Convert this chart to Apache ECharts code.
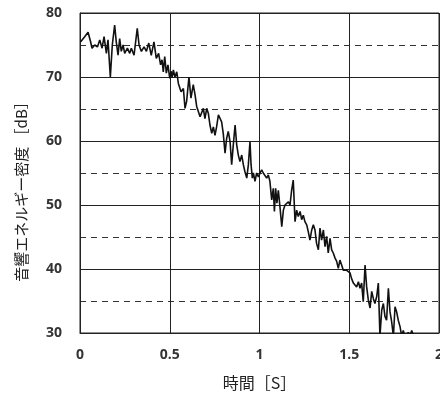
<!DOCTYPE html>
<html>
<head>
<meta charset="utf-8">
<script src="https://cdn.jsdelivr.net/npm/echarts@6/dist/echarts.min.js"></script>
<style>
html,body{margin:0;padding:0;background:#fff;}
#chart{width:440px;height:394px;}
</style>
</head>
<body>
<div id="chart"></div>
<script>
var xTitle = '時間［S］';
var yTitle = '音響エネルギー密度 ［dB］';
var xTicks = [0, 0.5, 1, 1.5, 2];
var yTicks = [30, 40, 50, 60, 70, 80];
var times = [0.004,0.026,0.045,0.059,0.067,0.082,0.097,0.110,0.123,0.134,0.147,0.156,0.169,0.180,0.193,0.202,0.212,0.221,0.230,0.240,0.249,0.264,0.277,0.286,0.301,0.319,0.329,0.342,0.357,0.370,0.383,0.397,0.412,0.425,0.438,0.449,0.457,0.464,0.472,0.481,0.490,0.500,0.507,0.513,0.520,0.529,0.539,0.548,0.557,0.563,0.576,0.585,0.594,0.607,0.618,0.631,0.641,0.650,0.659,0.669,0.678,0.687,0.696,0.706,0.715,0.724,0.734,0.743,0.752,0.761,0.771,0.780,0.789,0.798,0.808,0.817,0.826,0.836,0.845,0.854,0.864,0.873,0.882,0.891,0.901,0.910,0.919,0.929,0.938,0.947,0.953,0.960,0.966,0.975,0.984,0.994,1.003,1.012,1.021,1.031,1.040,1.049,1.058,1.068,1.077,1.083,1.090,1.097,1.105,1.114,1.124,1.133,1.142,1.151,1.161,1.170,1.179,1.188,1.198,1.207,1.216,1.226,1.235,1.244,1.253,1.263,1.272,1.281,1.291,1.300,1.309,1.318,1.328,1.337,1.346,1.356,1.365,1.374,1.383,1.393,1.402,1.411,1.421,1.430,1.439,1.448,1.458,1.467,1.476,1.486,1.495,1.504,1.513,1.523,1.532,1.541,1.551,1.560,1.569,1.578,1.588,1.597,1.606,1.616,1.625,1.634,1.643,1.653,1.662,1.671,1.681,1.690,1.699,1.708,1.718,1.727,1.736,1.746,1.755,1.764,1.773,1.783,1.792,1.801,1.811,1.829,1.838,1.848,1.866,1.900,1.950,2.000];
var levels = [75.5,76.3,77.0,75.5,74.5,75.0,74.7,75.8,74.5,76.3,73.7,75.8,70.0,75.0,78.1,75.5,73.4,76.0,74.0,75.0,73.7,74.5,73.7,74.5,73.4,77.6,75.0,74.0,74.7,74.0,75.3,73.4,75.5,72.9,73.7,71.9,72.7,70.8,73.2,70.6,71.9,69.8,70.9,69.9,71.1,70.0,70.8,69.0,68.8,67.7,68.2,65.1,66.2,70.0,66.7,68.8,67.2,65.4,65.1,63.8,63.5,65.1,63.5,65.1,64.3,62.5,61.2,62.2,60.9,62.2,64.1,64.1,63.0,61.2,58.1,60.4,61.5,59.9,56.3,59.4,62.5,59.4,57.8,56.8,57.8,56.3,55.2,54.2,56.3,59.9,56.3,54.2,55.0,53.7,55.0,54.4,55.0,55.5,55.0,55.2,54.2,54.7,53.7,50.8,52.6,49.0,52.6,50.3,52.3,49.7,46.6,49.2,50.0,49.7,50.5,50.0,52.3,53.9,47.4,49.2,48.2,49.0,47.7,48.4,47.4,46.9,45.8,44.5,46.1,46.9,46.1,44.0,43.0,46.4,44.5,46.1,43.5,45.1,42.5,44.8,43.0,42.5,41.7,41.2,40.1,41.4,40.6,39.8,40.1,39.8,40.1,39.4,38.5,37.8,38.0,37.2,38.0,37.0,37.8,34.9,40.6,37.2,35.2,33.9,36.5,35.4,34.6,35.7,37.8,29.5,33.6,34.6,32.6,32.0,37.0,33.3,31.8,29.5,34.1,33.3,32.0,31.0,29.5,30.4,29.3,30.1,29.5,30.4,28.8,28.0,27.5,27.0];

var seriesData = times.map(function(t, i){ return [t, levels[i]]; });

var labelStyle = {color:'#333', fontSize:14, fontWeight:'bold', fontFamily:'"Open Sans", "Noto Sans", sans-serif'};
var chart = echarts.init(document.getElementById('chart'), null, {renderer:'canvas'});
chart.setOption({
  animation:false,
  backgroundColor:'#fff',
  grid:{left:80, top:13, right:1, bottom:61, show:true, borderColor:'#222', borderWidth:1, backgroundColor:'transparent', containLabel:false, outerBoundsMode:'none'},
  graphic:[{
    type:'text', x:21, y:188, rotation:Math.PI/2,
    style:{text:yTitle, fill:'#222', font:'15px "Noto Sans CJK JP", sans-serif', textAlign:'center', textVerticalAlign:'middle'}
  }],
  xAxis:{
    type:'value', min:xTicks[0], max:xTicks[xTicks.length-1], interval:0.5,
    name:xTitle, nameLocation:'middle', nameGap:42,
    nameTextStyle:{color:'#222', fontSize:16, fontFamily:'"Noto Sans CJK JP", sans-serif'},
    axisLine:{show:true, lineStyle:{color:'#222', width:1}},
    axisTick:{show:false},
    axisLabel:Object.assign({margin:15}, labelStyle),
    splitLine:{show:true, lineStyle:{color:'#222', width:1}}
  },
  yAxis:{
    type:'value', min:yTicks[0], max:yTicks[yTicks.length-1], interval:10,
    axisLine:{show:true, lineStyle:{color:'#222', width:1}},
    axisTick:{show:false},
    axisLabel:Object.assign({margin:18}, labelStyle),
    splitLine:{show:true, lineStyle:{color:'#222', width:1}},
    minorTick:{show:false, splitNumber:2},
    minorSplitLine:{show:true, lineStyle:{color:'#333', width:1, type:[6,5]}}
  },
  series:[{
    type:'line', data:seriesData, showSymbol:false, symbol:'none',
    lineStyle:{color:'#111', width:1.6}, clip:true
  }]
});
</script>
</body>
</html>
